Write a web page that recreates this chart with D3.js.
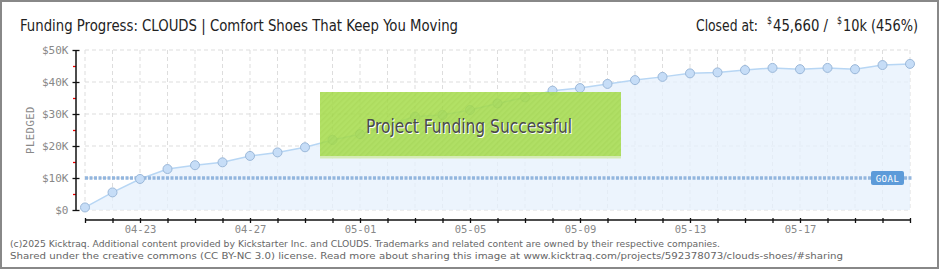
<!DOCTYPE html>
<html>
<head>
<meta charset="utf-8">
<script src="https://cdn.jsdelivr.net/npm/d3@7"></script>
<style>
  html, body { margin: 0; padding: 0; background: #fff; }
  svg { display: block; }
</style>
</head>
<body>
<svg id="chart" width="940" height="270"></svg>
<script>
// daily pledged totals, 2025-04-21 .. 2025-05-21
const startDate = "2025-04-21";
const pledged = [800, 5500, 9700, 12800, 14000, 14900, 16900, 18000, 19600, 21900,
  23700, 26500, 29200, 29700, 31250, 33300, 35200, 37300, 38100, 39400,
  40600, 41600, 42700, 43000, 43750, 44400, 44000, 44400, 44000, 45300, 45660];
const goal = 10000;
const yTicks = [0, 10000, 20000, 30000, 40000, 50000];
const yMinorTicks = [5000, 15000, 25000, 35000, 45000];
const yTickLabels = ["$0", "$10K", "$20K", "$30K", "$40K", "$50K"];
const xLabelDays = ["04-23", "04-27", "05-01", "05-05", "05-09", "05-13", "05-17"];

const parse = d3.timeParse("%Y-%m-%d");
const fmt = d3.timeFormat("%m-%d");
const days = pledged.map((v, i) => d3.timeDay.offset(parse(startDate), i));
const data = days.map((d, i) => ({date: d, val: pledged[i]}));

const svg = d3.select("#chart");
const mono = "'DejaVu Sans Mono', monospace";
const narrow = "'Liberation Sans Narrow', 'DejaVu Sans Condensed', sans-serif";

const x = d3.scaleTime().domain([days[0], days[days.length - 1]]).range([85, 910]);
const y = d3.scaleLinear().domain([0, 50000]).range([210, 50]);

// frame
svg.append("rect").attr("x", 1).attr("y", 1).attr("width", 937).attr("height", 267)
  .attr("fill", "#fff").attr("stroke", "#888").attr("stroke-width", 2);

// title
svg.append("text").attr("x", 20).attr("y", 30.5)
  .attr("font-family", narrow).attr("font-size", 16).attr("fill", "#222")
  .attr("textLength", 438).attr("lengthAdjust", "spacingAndGlyphs")
  .text("Funding Progress: CLOUDS | Comfort Shoes That Keep You Moving");

const hdr = (tx, x0, len, size, yy) => svg.append("text").attr("x", x0).attr("y", yy)
  .attr("font-family", narrow).attr("font-size", size).attr("fill", "#222")
  .attr("textLength", len).attr("lengthAdjust", "spacingAndGlyphs").text(tx);
hdr("Closed at:", 696, 62, 16, 30.5);
hdr("$", 767, 5, 10, 24);
hdr("45,660 /", 773, 55, 16, 30.5);
hdr("$", 837, 5, 10, 24);
hdr("10k (456%)", 843, 75, 16, 30.5);

// grid
const grid = svg.append("g").attr("stroke", "#ddd").attr("stroke-dasharray", "4,3");
grid.selectAll("line.v").data(days).enter().append("line")
  .attr("x1", d => x(d)).attr("x2", d => x(d)).attr("y1", 50).attr("y2", 210);
grid.selectAll("line.h").data(yTicks).enter().append("line")
  .attr("x1", 85).attr("x2", 910).attr("y1", d => y(d)).attr("y2", d => y(d));

// area + line
svg.append("path").datum(data)
  .attr("d", d3.area().x(d => x(d.date)).y0(y(0)).y1(d => y(d.val)))
  .attr("fill", "#e6f0fc").attr("fill-opacity", 0.75);
svg.append("path").datum(data)
  .attr("d", d3.line().x(d => x(d.date)).y(d => y(d.val)))
  .attr("fill", "none").attr("stroke", "#b7d6f4").attr("stroke-width", 1.5);

// goal line
svg.append("line").attr("x1", 85).attr("x2", 912).attr("y1", y(goal)).attr("y2", y(goal))
  .attr("stroke", "#93b6de").attr("stroke-width", 3.5).attr("stroke-dasharray", "3,1.5");

// points
svg.selectAll("circle.pt").data(data).enter().append("circle")
  .attr("cx", d => x(d.date)).attr("cy", d => y(d.val)).attr("r", 4.5)
  .attr("fill", "#c6ddf7").attr("stroke", "#9bb8d9").attr("stroke-width", 1);

// goal tag
svg.append("rect").attr("x", 871).attr("y", y(goal) - 7).attr("width", 33).attr("height", 14)
  .attr("rx", 2).attr("fill", "#5d9bd9");
svg.append("text").attr("x", 887.5).attr("y", y(goal) + 3.5).attr("text-anchor", "middle")
  .attr("font-family", mono).attr("font-size", 9).attr("fill", "#fff").attr("letter-spacing", 0.5)
  .text("GOAL");

// x axis
const xa = svg.append("g").attr("transform", "translate(0,218)")
  .call(d3.axisBottom(x).tickValues(days).tickSize(5).tickPadding(3)
    .tickFormat(d => xLabelDays.includes(fmt(d)) ? fmt(d) : ""));
xa.select(".domain").remove();
xa.selectAll(".tick line").attr("stroke", "#111").attr("stroke-width", 1.3);
xa.selectAll(".tick text").attr("font-family", mono).attr("font-size", 10.5).attr("fill", "#888");
svg.append("line").attr("x1", 85).attr("x2", 910).attr("y1", 220).attr("y2", 220)
  .attr("stroke", "#111").attr("stroke-width", 1.5);

// y axis
const ya = svg.append("g").attr("transform", "translate(79.5,0)")
  .call(d3.axisLeft(y).tickValues(yTicks).tickSize(7).tickPadding(4)
    .tickFormat((d, i) => yTickLabels[i]));
ya.select(".domain").remove();
ya.selectAll(".tick line").attr("stroke", "#111").attr("stroke-width", 1.3);
ya.selectAll(".tick text").attr("font-family", mono).attr("font-size", 11).attr("fill", "#888");
const ym = svg.append("g").attr("transform", "translate(76,0)")
  .call(d3.axisLeft(y).tickValues(yMinorTicks).tickSize(3).tickFormat(""));
ym.select(".domain").remove();
ym.selectAll(".tick line").attr("stroke", "#e00").attr("stroke-width", 1.3);
svg.append("line").attr("x1", 76).attr("x2", 76).attr("y1", 50).attr("y2", 211)
  .attr("stroke", "#111").attr("stroke-width", 1.5);

svg.append("text").attr("transform", "translate(34,130) rotate(-90)")
  .attr("text-anchor", "middle").attr("font-family", mono).attr("font-size", 10.5)
  .attr("fill", "#888").attr("letter-spacing", 0.5).text("PLEDGED");

// success banner
const defs = svg.append("defs");
const pat = defs.append("pattern").attr("id", "stripe").attr("width", 4).attr("height", 4)
  .attr("patternUnits", "userSpaceOnUse").attr("patternTransform", "rotate(45)");
pat.append("rect").attr("width", 4).attr("height", 4).attr("fill", "#a6dc4c");
pat.append("rect").attr("width", 1.5).attr("height", 4).attr("fill", "#9fd544");
svg.append("rect").attr("x", 320).attr("y", 92).attr("width", 301).attr("height", 66)
  .attr("fill", "url(#stripe)").attr("opacity", 0.86);
svg.append("rect").attr("x", 320).attr("y", 156).attr("width", 301).attr("height", 2.5)
  .attr("fill", "#d5ebb5");
const banner = "Project Funding Successful";
svg.append("text").attr("x", 367).attr("y", 133.5).attr("font-family", narrow)
  .attr("font-size", 19.5).attr("fill", "#fff").attr("textLength", 206).attr("lengthAdjust", "spacingAndGlyphs")
  .text(banner);
svg.append("text").attr("x", 366).attr("y", 132.5).attr("font-family", narrow)
  .attr("font-size", 19.5).attr("fill", "#4a4a4a").attr("textLength", 206).attr("lengthAdjust", "spacingAndGlyphs")
  .text(banner);

// footer
const foot = (tx, yy, len) => svg.append("text").attr("x", 10).attr("y", yy)
  .attr("font-family", "'DejaVu Sans', Verdana, sans-serif").attr("font-size", 9.5).attr("fill", "#666")
  .attr("textLength", len).attr("lengthAdjust", "spacingAndGlyphs").text(tx);
foot("(c)2025 Kicktraq. Additional content provided by Kickstarter Inc. and CLOUDS. Trademarks and related content are owned by their respective companies.", 246.5, 710);
foot("Shared under the creative commons (CC BY-NC 3.0) license. Read more about sharing this image at www.kicktraq.com/projects/592378073/clouds-shoes/#sharing", 259, 833);
</script>
</body>
</html>
